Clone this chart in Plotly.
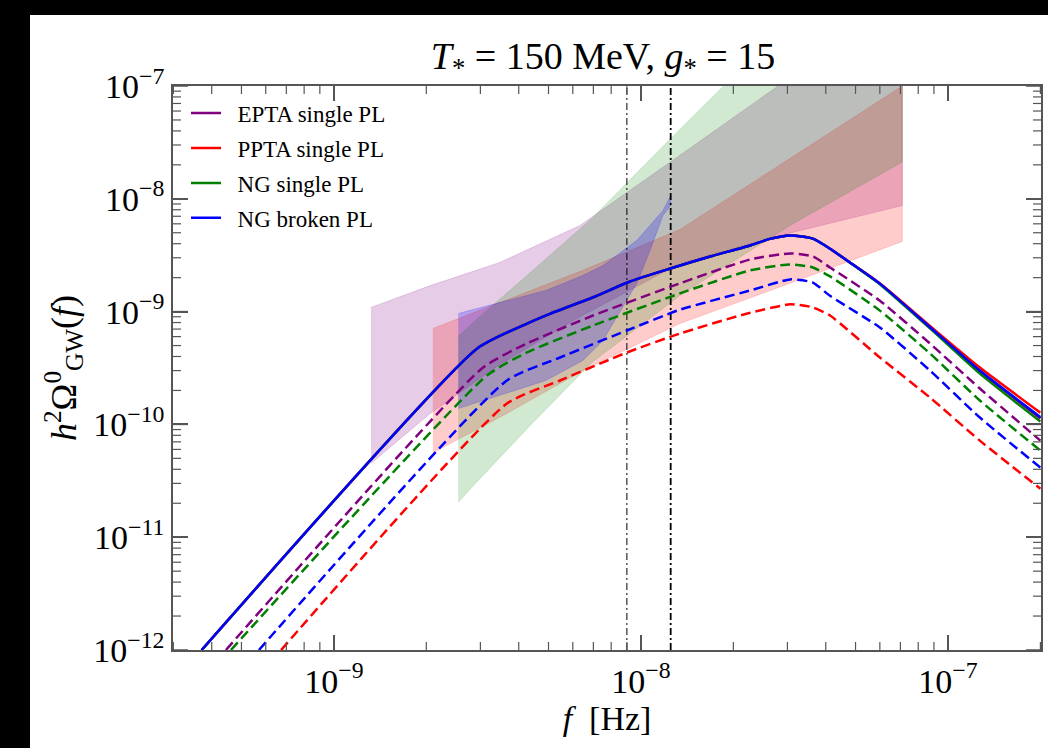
import math
import plotly.graph_objects as go

# ---------------- data ----------------
# solid curves (legend curves)
f_solid = [3.71e-10, 2.93e-9, 4.24e-9, 5.05e-9, 6.99e-9, 9.21e-9, 1.24e-8, 1.68e-8, 2.27e-8,
           2.63e-8, 3.06e-8, 3.63e-8, 4.13e-8, 4.69e-8, 6.0e-8, 8.74e-8, 1.27e-7, 2.0e-7]
omega_ngb_solid = [1.0e-12, 4.71e-10, 7.79e-10, 9.56e-10, 1.34e-9, 1.85e-9, 2.40e-9, 3.08e-9, 3.86e-9,
                   4.41e-9, 4.73e-9, 4.43e-9, 3.61e-9, 2.84e-9, 1.77e-9, 7.27e-10, 3.0e-10, 1.16e-10]
omega_epta_solid = [1.0e-12, 4.71e-10, 7.79e-10, 9.56e-10, 1.34e-9, 1.85e-9, 2.40e-9, 3.08e-9, 3.86e-9,
                    4.41e-9, 4.73e-9, 4.43e-9, 3.61e-9, 2.84e-9, 1.77e-9, 7.2e-10, 2.95e-10, 1.13e-10]
omega_ppta_solid = [1.0e-12, 4.71e-10, 7.79e-10, 9.56e-10, 1.34e-9, 1.85e-9, 2.40e-9, 3.08e-9, 3.86e-9,
                    4.41e-9, 4.73e-9, 4.43e-9, 3.61e-9, 2.84e-9, 1.78e-9, 7.45e-10, 3.19e-10, 1.27e-10]
omega_ng_solid = [1.0e-12, 4.71e-10, 7.79e-10, 9.56e-10, 1.34e-9, 1.85e-9, 2.40e-9, 3.08e-9, 3.86e-9,
                  4.41e-9, 4.73e-9, 4.43e-9, 3.61e-9, 2.84e-9, 1.75e-9, 7.1e-10, 2.82e-10, 1.06e-10]

# dashed curves
f_epta_dash = [4.45e-10, 3.06e-9, 4.25e-9, 6.98e-9, 1.34e-8, 2.27e-8, 3.06e-8, 3.63e-8, 4.13e-8, 6.0e-8, 8.74e-8, 1.27e-7, 2.0e-7]
omega_epta_dash = [1.0e-12, 3.19e-10, 5.21e-10, 9.23e-10, 1.78e-9, 2.90e-9, 3.28e-9, 3.08e-9, 2.46e-9, 1.25e-9, 5.21e-10, 2.08e-10, 7.18e-11]
f_ng_dash = [4.62e-10, 3.15e-9, 4.25e-9, 6.98e-9, 1.34e-8, 2.27e-8, 3.06e-8, 3.63e-8, 4.13e-8, 6.0e-8, 8.74e-8, 1.27e-7, 2.0e-7]
omega_ng_dash = [1.0e-12, 2.71e-10, 4.34e-10, 7.53e-10, 1.45e-9, 2.32e-9, 2.62e-9, 2.46e-9, 2.05e-9, 1.02e-9, 4.25e-10, 1.63e-10, 5.86e-11]
f_ngb_dash = [5.70e-10, 3.66e-9, 5.45e-9, 9.0e-9, 1.34e-8, 2.27e-8, 3.06e-8, 3.63e-8, 4.13e-8, 6.0e-8, 8.74e-8, 1.27e-7, 2.0e-7]
omega_ngb_dash = [1.0e-12, 2.45e-10, 3.92e-10, 6.8e-10, 1.04e-9, 1.54e-9, 1.93e-9, 1.81e-9, 1.38e-9, 7.23e-10, 3.0e-10, 1.15e-10, 4.14e-11]
f_ppta_dash = [6.73e-10, 3.66e-9, 5.45e-9, 9.0e-9, 1.34e-8, 2.22e-8, 3.06e-8, 3.63e-8, 4.13e-8, 6.0e-8, 8.74e-8, 1.27e-7, 2.0e-7]
omega_ppta_dash = [1.0e-12, 1.53e-10, 2.45e-10, 4.34e-10, 6.39e-10, 9.62e-10, 1.16e-9, 1.09e-9, 9.23e-10, 3.92e-10, 1.73e-10, 7.18e-11, 2.69e-11]

# PTA bands
f_epta_band = [1.32e-9, 2.06e-9, 3.47e-9, 6.33e-9, 1.34e-8, 2.84e-8, 7.1e-8]
epta_upper = [1.09e-9, 1.70e-9, 2.73e-9, 5.8e-9, 2.43e-8, 1.03e-7, 6.8e-7]
epta_lower = [4.5e-11, 1.25e-10, 3.4e-10, 9.0e-10, 2.67e-9, 4.73e-9, 8.7e-9]

f_ppta_band = [2.1e-9, 3.66e-9, 6.47e-9, 1.34e-8, 3.06e-8, 7.1e-8]
ppta_upper = [7.08e-10, 1.28e-9, 2.32e-9, 5.35e-9, 2.30e-8, 1.0e-7]
ppta_lower = [5.62e-11, 1.25e-10, 3.0e-10, 7.84e-10, 1.78e-9, 4.19e-9]

f_ng_band = [2.54e-9, 2.94e-9, 4.35e-9, 6.92e-9, 1.34e-8, 1.86e-8, 3.06e-8, 7.1e-8]
ng_upper = [6.0e-10, 8.7e-10, 2.2e-9, 6.7e-9, 4.13e-8, 1.0e-7, 4.5e-7, 6.3e-6]
ng_lower = [2.04e-11, 3.15e-11, 9.75e-11, 3.54e-10, 1.39e-9, 2.46e-9, 5.81e-9, 2.12e-8]

f_ngb_band = [2.54e-9, 4.9e-9, 6.47e-9, 7.52e-9, 9.70e-9, 1.07e-8, 1.18e-8, 1.25e-8]
ngb_upper = [9.62e-10, 1.54e-9, 2.09e-9, 2.56e-9, 4.28e-9, 5.81e-9, 7.89e-9, 1.07e-8]
ngb_lower = [1.38e-10, 2.45e-10, 3.68e-10, 5.54e-10, 1.78e-9, 3.48e-9, 7.12e-9, 8.74e-9]

# vertical reference frequencies
f_vline_thin = 9.0e-9
f_vline_thick = 1.25e-8

# axis ticks (decades) and ranges (log10)
y_decades = [-12, -11, -10, -9, -8, -7]
x_decades = [-10, -9, -8, -7]
x_range = [-9.524, -6.697]
y_range = [-12, -7]

labels = ["EPTA single PL", "PPTA single PL", "NG single PL", "NG broken PL"]
colors = {"EPTA": "#800080", "PPTA": "#ff0000", "NG": "#008000", "NGB": "#0000ff"}
fills = {"EPTA": "rgba(128,0,128,0.2)", "PPTA": "rgba(255,0,0,0.2)",
         "NG": "rgba(0,128,0,0.18)", "NGB": "rgba(0,0,255,0.22)"}

FONT = "Liberation Serif"
W, H = 1048, 748
L, R, T, B = 173, 7, 86, 98
pw, ph = W - L - R, H - T - B

fig = go.Figure()

def band(f, lo, hi, key):
    fig.add_trace(go.Scatter(x=list(f) + list(f)[::-1], y=list(hi) + list(lo)[::-1],
                             fill="toself", fillcolor=fills[key], mode="lines",
                             line=dict(width=0.8, color=fills[key]), showlegend=False,
                             hoverinfo="skip"))

band(f_epta_band, epta_lower, epta_upper, "EPTA")
band(f_ppta_band, ppta_lower, ppta_upper, "PPTA")
band(f_ng_band, ng_lower, ng_upper, "NG")
band(f_ngb_band, ngb_lower, ngb_upper, "NGB")

# vertical dash-dot lines
for fv, w in [(f_vline_thin, 1.0), (f_vline_thick, 1.8)]:
    fig.add_trace(go.Scatter(x=[fv, fv], y=[1e-12, 1e-7], mode="lines",
                             line=dict(color="black", width=w, dash="7px,3px,2px,3px"),
                             showlegend=False, hoverinfo="skip"))

SM = 0.55
# dashed curves
for f, om, key in [(f_epta_dash, omega_epta_dash, "EPTA"), (f_ng_dash, omega_ng_dash, "NG"),
                   (f_ngb_dash, omega_ngb_dash, "NGB"), (f_ppta_dash, omega_ppta_dash, "PPTA")]:
    fig.add_trace(go.Scatter(x=f, y=om, mode="lines",
                             line=dict(color=colors[key], width=2.5, dash="10px,5px",
                                       shape="spline", smoothing=SM),
                             showlegend=False, hoverinfo="skip"))

# solid curves (legend)
for om, key, lab in [(omega_epta_solid, "EPTA", labels[0]), (omega_ppta_solid, "PPTA", labels[1]),
                     (omega_ng_solid, "NG", labels[2]), (omega_ngb_solid, "NGB", labels[3])]:
    fig.add_trace(go.Scatter(x=f_solid, y=om, mode="lines", name="\u2002" + lab, legendgroup=lab,
                             line=dict(color=colors[key], width=2.5, shape="spline", smoothing=SM)))

def major(decs):
    return [10.0 ** d for d in decs]

def minor(decs):
    return [m * 10.0 ** d for d in decs for m in range(2, 10)]

def ticklab(decs):
    return ["10<sup>\u2212%d</sup>" % (-d) for d in decs]

# tick marks on all four sides drawn as thin line traces, derived from the tick values
xspan = x_range[1] - x_range[0]
yspan = y_range[1] - y_range[0]
for vals, ln, wd in [(major(x_decades), 15, 1.5), (minor(x_decades), 8, 1.2)]:
    xs, ys = [], []
    for v in vals:
        if x_range[0] <= math.log10(v) <= x_range[1]:
            dy = ln / ph * yspan
            xs += [v, v, None, v, v, None]
            ys += [10 ** y_range[0], 10 ** (y_range[0] + dy), None,
                   10 ** y_range[1], 10 ** (y_range[1] - dy), None]
    fig.add_trace(go.Scatter(x=xs, y=ys, mode="lines", line=dict(color="#555", width=wd),
                             showlegend=False, hoverinfo="skip", cliponaxis=False))
for vals, ln, wd in [(major(y_decades), 15, 1.5), (minor(y_decades), 8, 1.2)]:
    xs, ys = [], []
    for v in vals:
        if y_range[0] <= math.log10(v) <= y_range[1]:
            dx = ln / pw * xspan
            xs += [10 ** x_range[0], 10 ** (x_range[0] + dx), None,
                   10 ** x_range[1], 10 ** (x_range[1] - dx), None]
            ys += [v, v, None, v, v, None]
    fig.add_trace(go.Scatter(x=xs, y=ys, mode="lines", line=dict(color="#555", width=wd),
                             showlegend=False, hoverinfo="skip", cliponaxis=False))

def make_axis(rng, decs, title, tsize, standoff):
    return dict(
        type="log", range=rng, showgrid=False, zeroline=False, showline=True,
        linecolor="#555", linewidth=1.5, mirror="ticks",
        ticks="inside", ticklen=15, tickwidth=1.5, tickcolor="#555",
        tickmode="array", tickvals=major(decs), ticktext=ticklab(decs),
        tickfont=dict(family=FONT, size=34, color="black"),
        title=dict(text=title, font=dict(family=FONT, size=tsize, color="black"), standoff=standoff),
    )

fig.update_layout(
    width=W, height=H, margin=dict(l=L, r=R, t=T, b=B, autoexpand=False),
    paper_bgcolor="white", plot_bgcolor="white",
    title=dict(text="<i>T</i><sub>*</sub> = 150 MeV, <i>g</i><sub>*</sub> = 15",
               x=603 / W, xanchor="center", y=1 - 56 / H, yanchor="middle",
               font=dict(family=FONT, size=38, color="black")),
    xaxis=make_axis(x_range, x_decades, "<i>f</i>  [Hz]", 34, 0),
    yaxis=make_axis(y_range, y_decades,
                    "<i>h</i><sup>2</sup>Ω<sup>0</sup><sub>GW</sub>(<i>f</i>)", 36, 6),
    legend=dict(x=0.015, y=0.99, xanchor="left", yanchor="top", bgcolor="rgba(0,0,0,0)",
                font=dict(family=FONT, size=23, color="black"), tracegroupgap=2,
                itemwidth=30),
    showlegend=True,
)

# black frame strips (left and top) of the reference image
x0p = -L / pw
x1p = (W - L) / pw
ytop = (H - B) / ph
ybot = -B / ph
fig.add_shape(type="rect", xref="paper", yref="paper", x0=x0p, x1=x0p + 30 / pw,
              y0=ybot, y1=ytop, fillcolor="black", line=dict(width=0), layer="above")
fig.add_shape(type="rect", xref="paper", yref="paper", x0=x0p, x1=x1p,
              y0=ytop - 15 / ph, y1=ytop, fillcolor="black", line=dict(width=0), layer="above")

fig.write_html("out.html")
